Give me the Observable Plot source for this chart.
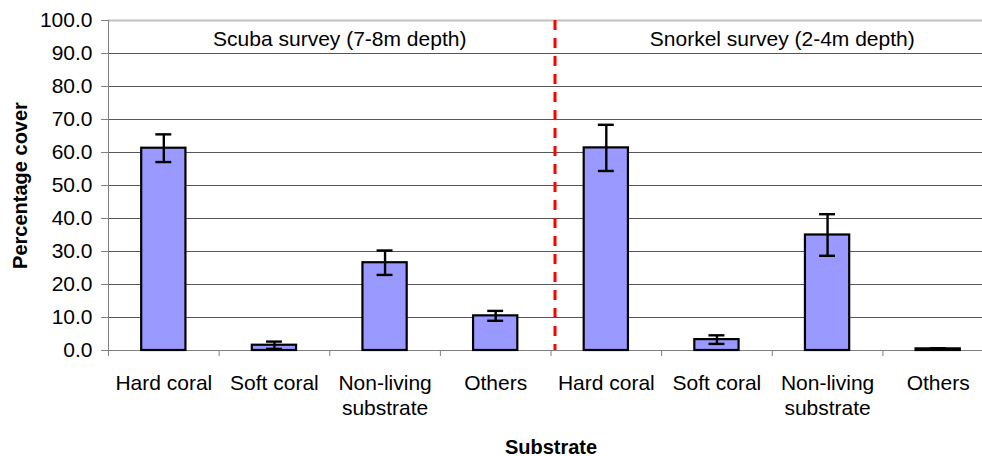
<!DOCTYPE html>
<html>
<head>
<meta charset="utf-8">
<script src="https://cdn.jsdelivr.net/npm/d3@7"></script>
<script src="https://cdn.jsdelivr.net/npm/@observablehq/plot@0.6"></script>
<style>
  html, body { margin: 0; padding: 0; background: #fff; overflow: hidden; }
  #chart svg { display: block; }
</style>
</head>
<body>
<div id="chart"></div>
<script>
// ---- data ----
const categories = ["Hard coral", "Soft coral", "Non-living\nsubstrate", "Others"];
const surveys = ["Scuba survey (7-8m depth)", "Snorkel survey (2-4m depth)"];
const scubaMeans = [61.3, 1.6, 26.6, 10.5];
const scubaErrors = [4.2, 1.1, 3.7, 1.5];
const snorkelMeans = [61.4, 3.3, 35.0, 0.5];
const snorkelErrors = [7.0, 1.3, 6.3, 0.2];
const yTicks = [0, 10, 20, 30, 40, 50, 60, 70, 80, 90, 100];
const yTitle = "Percentage cover";
const xTitle = "Substrate";

// ---- build table ----
const rows = [];
[[scubaMeans, scubaErrors], [snorkelMeans, snorkelErrors]].forEach(([m, e], s) => {
  categories.forEach((c, j) => {
    rows.push({survey: surveys[s], category: c, i: s * categories.length + j, value: m[j], err: e[j]});
  });
});
const nBands = rows.length;
const boundaries = d3.range(0, nBands + 1);
const surveyRows = surveys.map((s, k) => ({survey: s, center: k * categories.length + categories.length / 2}));

const font = "'Liberation Sans', Arial, Helvetica, sans-serif";
const barHalf = 0.2;
const capHalf = 0.072;
const fs = 21;

const chart = Plot.plot({
  width: 982,
  height: 456,
  marginLeft: 108,
  marginRight: -11,
  marginTop: 20,
  marginBottom: 106,
  style: {fontFamily: font, fontSize: fs + "px", color: "#000", background: "#fff"},
  x: {domain: [0, nBands]},
  y: {domain: [0, 100]},
  marks: [
    Plot.ruleY(yTicks.filter(t => t > 0 && t < 100), {stroke: "#555", strokeWidth: 1}),
    Plot.ruleY([100], {stroke: "#c0c0c0", strokeWidth: 2}),
    Plot.ruleX([0], {stroke: "#808080", strokeWidth: 1}),
    Plot.axisY({ticks: yTicks, tickFormat: d3.format(".1f"), tickSize: 7, tickPadding: 9,
      fontSize: fs, stroke: "#808080", fill: "#000", label: null}),
    Plot.axisX({ticks: boundaries, tickFormat: () => "", tickSize: 6, stroke: "#808080", label: null}),
    Plot.ruleY([0], {stroke: "#808080", strokeWidth: 1}),
    Plot.ruleX([categories.length], {dx: 4, y1: 100, y2: 0, stroke: "#ff0000", strokeWidth: 3, strokeDasharray: "10,8"}),
    Plot.rectY(rows, {x1: d => d.i + 0.5 - barHalf, x2: d => d.i + 0.5 + barHalf, y: "value",
      fill: "#9999ff", stroke: "#000", strokeWidth: 2.2}),
    Plot.ruleX(rows, {x: d => d.i + 0.5, y1: d => d.value - d.err, y2: d => d.value + d.err, stroke: "#000", strokeWidth: 2.4}),
    Plot.ruleY(rows, {x1: d => d.i + 0.5 - capHalf, x2: d => d.i + 0.5 + capHalf, y: d => d.value + d.err, stroke: "#000", strokeWidth: 2.4}),
    Plot.ruleY(rows, {x1: d => d.i + 0.5 - capHalf, x2: d => d.i + 0.5 + capHalf, y: d => d.value - d.err, stroke: "#000", strokeWidth: 2.4}),
    Plot.text(rows, {x: d => d.i + 0.5, y: () => 0, text: "category", lineAnchor: "top", dy: 22,
      lineHeight: 1.19, fontSize: fs, fill: "#000"}),
    Plot.text(surveyRows, {x: "center", y: () => 100, text: "survey", lineAnchor: "middle", dy: 18.6, dx: 10,
      fontSize: fs, fill: "#000"}),
    Plot.text([yTitle], {frameAnchor: "left", textAnchor: "middle", rotate: -90, dx: -87.5, lineAnchor: "middle",
      fontSize: 20, fontWeight: "bold", fill: "#000"}),
    Plot.text([xTitle], {frameAnchor: "bottom", dy: 96.6, lineAnchor: "middle",
      fontSize: 20, fontWeight: "bold", fill: "#000"})
  ]
});
document.getElementById("chart").append(chart);
</script>
</body>
</html>
